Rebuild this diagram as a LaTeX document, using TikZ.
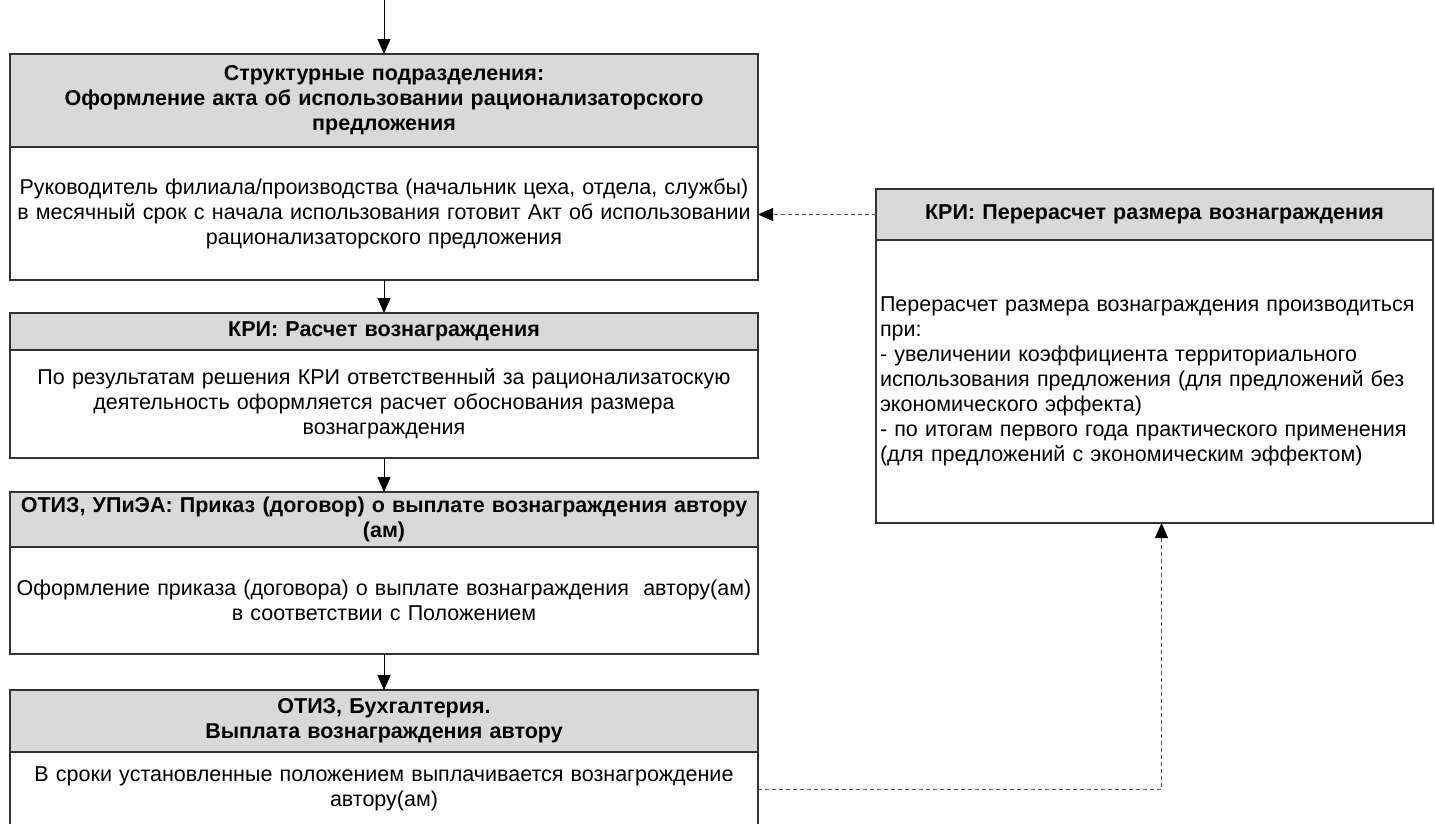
\documentclass[tikz,border=0pt]{standalone}
\usepackage{fontspec}
\setmainfont{Liberation Sans}
\usepackage{xcolor}
\usepackage{tikz}
\usetikzlibrary{positioning,arrows.meta}

\definecolor{headgray}{HTML}{D9D9D9}
\definecolor{rimgray}{HTML}{333333}
\definecolor{dashgray}{HTML}{505050}

\tikzset{
    boxline/.style={draw=rimgray, line width=1.1pt, inner xsep=4pt, inner ysep=0pt, outer sep=0pt},
    head/.style={boxline, fill=headgray, font=\bfseries},
    body/.style={boxline, fill=white},
    wide/.style={text width=740pt, align=center},
    side/.style={text width=549pt},
    flow/.style={-{Triangle[length=15pt,width=13pt,color=black]}, line width=1pt, black},
    back/.style={flow, dashgray, dash pattern=on 4pt off 3pt}
}

\begin{document}
\begin{tikzpicture}[x=1pt, y=-1pt]
    \fontsize{21.5}{25}\selectfont
    % Define dimensions
    \def\colx{384}      % left column centre
    \def\sidex{1154.5}  % right box centre
    \def\gap{33pt}      % gap between left boxes

    \useasboundingbox (0,0) rectangle (1435,823);

    % Left column
    \coordinate (start) at (\colx,0);
    \node[head, wide, minimum height=93pt, anchor=north] (hAct) at (\colx,54)
        {Структурные подразделения:\\ Оформление акта об использовании рационализаторского\\ предложения};
    \node[body, wide, minimum height=133pt, below=0pt of hAct] (bAct)
        {Руководитель филиала/производства (начальник цеха, отдела, службы)\\ в месячный срок с начала использования готовит Акт об использовании\\ рационализаторского предложения};

    \node[head, wide, minimum height=37pt, below=\gap of bAct] (hCalc)
        {КРИ: Расчет вознаграждения};
    \node[body, wide, minimum height=108pt, below=0pt of hCalc] (bCalc)
        {По результатам решения КРИ ответственный за рационализатоскую\\ деятельность оформляется расчет обоснования размера\\ вознаграждения};

    \node[head, wide, minimum height=55pt, below=34pt of bCalc] (hOrder)
        {ОТИЗ, УПиЭА: Приказ (договор) о выплате вознаграждения автору\\ (ам)};
    \node[body, wide, minimum height=107pt, below=0pt of hOrder] (bOrder)
        {Оформление приказа (договора) о выплате вознаграждения\ \ автору(ам)\\ в соответствии с Положением};

    \node[head, wide, minimum height=62pt, below=36pt of bOrder] (hPay)
        {ОТИЗ, Бухгалтерия.\\ Выплата вознаграждения автору};
    \node[body, wide, minimum height=74pt, below=0pt of hPay] (bPay)
        {В сроки установленные положением выплачивается вознагрождение\\ автору(ам)};

    % Right box
    \node[head, side, align=center, minimum height=51pt, anchor=north] (hRe) at (\sidex,189)
        {КРИ: Перерасчет размера вознаграждения};
    \node[body, side, align=left, minimum height=283pt, below=0pt of hRe] (bRe)
        {Перерасчет размера вознаграждения производиться\\ при:\\ - увеличении коэффициента территориального\\ использования предложения (для предложений без\\ экономического эффекта)\\ - по итогам первого года практического применения\\ (для предложений с экономическим эффектом)};

    % Flow
    \draw[flow] (start) -- (hAct);
    \draw[flow] (bAct) -- (hCalc);
    \draw[flow] (bCalc) -- (hOrder);
    \draw[flow] (bOrder) -- (hPay);

    % Recalculation loop
    \coordinate (up) at ([xshift=7pt]bRe.south);
    \draw[back] (bPay.east) -| (up);
    \draw[back] (hRe.west) -- (hRe.west -| bAct.east);
\end{tikzpicture}
\end{document}
